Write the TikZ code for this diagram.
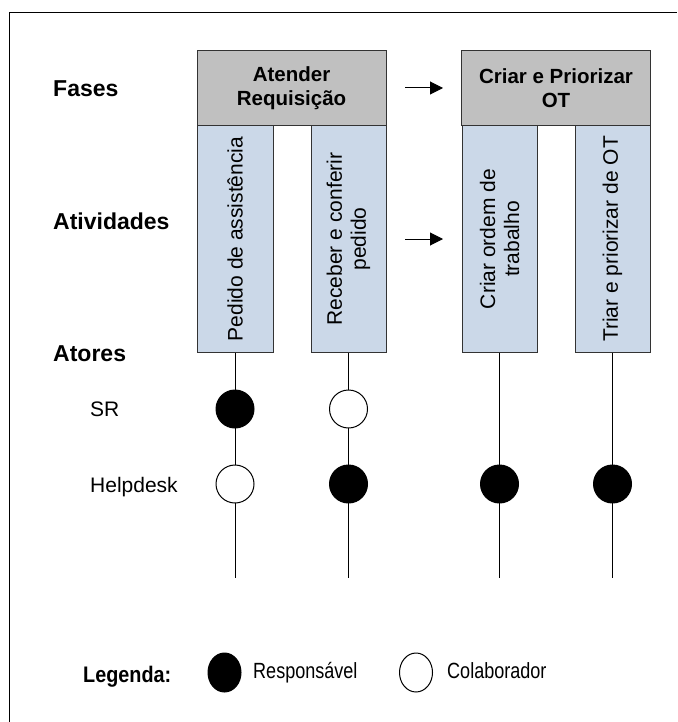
\documentclass[tikz,border=0pt]{standalone}
\usepackage{fontspec}
\setmainfont{Liberation Sans}
\usetikzlibrary{arrows.meta,shapes.geometric}
\definecolor{phasegrey}{RGB}{192,192,192}
\definecolor{actblue}{RGB}{203,216,232}
\begin{document}
\begin{tikzpicture}[x=1pt,y=-1pt,
  heading/.style={anchor=base west,inner sep=0pt,font=\bfseries\fontsize{23}{26}\selectfont},
  actor/.style={anchor=base west,inner sep=0pt,font=\fontsize{21}{24}\selectfont},
  phasebox/.style={draw=black!80,fill=phasegrey,line width=1pt,minimum width=189pt,minimum height=75pt,inner sep=0pt,
    align=center,font=\bfseries\fontsize{20.5}{24}\selectfont},
  actbox/.style={draw=black!80,fill=actblue,line width=1pt,minimum width=75pt,minimum height=226pt,inner sep=0pt},
  acttext/.style={rotate=90,inner sep=0pt,align=center,font=\fontsize{21}{24}\selectfont},
  lifeline/.style={line width=1pt},
  resp/.style={circle,draw=black,fill=black,line width=1pt,minimum size=38pt,inner sep=0pt},
  collab/.style={circle,draw=black,fill=white,line width=1pt,minimum size=38pt,inner sep=0pt},
  flow/.style={line width=1pt,-{Triangle[length=13pt,width=13pt]}},
  legendmark/.style={ellipse,draw=black,line width=1pt,minimum width=33pt,minimum height=39pt,inner sep=0pt},
  legendtext/.style={anchor=base west,inner sep=0pt,font=\fontsize{22}{24}\selectfont}
]
\useasboundingbox (0,0) rectangle (677,722);

% frame
\draw[line width=1pt] (9,722) -- (9,13) -- (677,13);

% row headings
\node[heading] (fases) at (53,97) {Fases};
\node[heading] (ativ) at (53,229) {Atividades};
\node[heading] (atores) at (53,361) {Atores};
\node[actor] (sr) at (90,416) {SR};
\node[actor] (help) at (90,492) {Helpdesk};

% phases
\node[phasebox] (ph1) at (291.5,88.5) {Atender\\Requisição};
\node[phasebox] (ph2) at (556,88.5) {Criar e Priorizar\\OT};

% activities
\node[actbox,minimum width=76pt] (act1) at (235,239) {};
\node[actbox] (act2) at (348.5,239) {};
\node[actbox] (act3) at (499.5,239) {};
\node[actbox] (act4) at (612.5,239) {};
\node[acttext] (t1) at (act1.center) {Pedido de assistência};
\node[acttext] (t2) at (act2.center) {Receber e conferir\\pedido};
\node[acttext] (t3) at (act3.center) {Criar ordem de\\trabalho};
\node[acttext] (t4) at (act4.center) {Triar e priorizar de OT};

% flow between phases
\coordinate (f1s) at (405,88);
\coordinate (f1e) at (443,88);
\coordinate (f2s) at (405,239);
\coordinate (f2e) at (443,239);
\draw[flow] (f1s) -- (f1e);
\draw[flow] (f2s) -- (f2e);

% lifelines
\coordinate (e1) at (235,578);
\coordinate (e2) at (348.5,578);
\coordinate (e3) at (499.5,578);
\coordinate (e4) at (612.5,578);
\draw[lifeline] (act1.south) -- (e1);
\draw[lifeline] (act2.south) -- (e2);
\draw[lifeline] (act3.south) -- (e3);
\draw[lifeline] (act4.south) -- (e4);

% responsibility marks
\node[resp] (c11) at (235,409) {};
\node[collab] (c12) at (235,484) {};
\node[collab] (c21) at (348.5,409) {};
\node[resp] (c22) at (348.5,484) {};
\node[resp] (c32) at (499.5,484) {};
\node[resp] (c42) at (612.5,484) {};

% legend
\node[anchor=base west,inner sep=0pt,font=\bfseries\fontsize{22.5}{24}\selectfont] (leg) at (83,682) {\scalebox{0.88}[1]{Legenda:}};
\node[legendmark,fill=black] (lr) at (224.5,672.5) {};
\node[legendtext] (lrt) at (253,678) {\scalebox{0.82}[1]{Responsável}};
\node[legendmark,fill=white] (lc) at (416,672.5) {};
\node[legendtext] (lct) at (447,678) {\scalebox{0.82}[1]{Colaborador}};
\end{tikzpicture}
\end{document}
